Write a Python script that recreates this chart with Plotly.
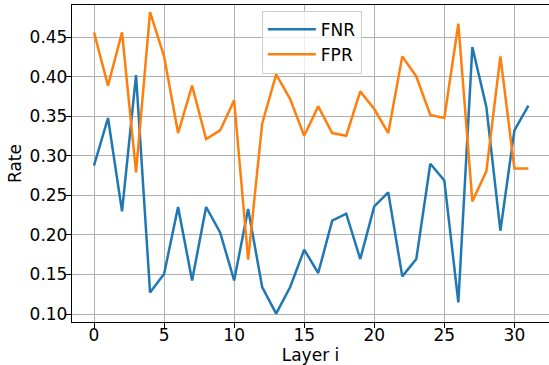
import plotly.graph_objects as go

layers = list(range(32))
fnr = [0.2877, 0.348, 0.2298, 0.4024, 0.1273, 0.1506, 0.2354, 0.1425,
       0.2354, 0.2033, 0.1425, 0.2329, 0.1342, 0.1004, 0.1342, 0.1814,
       0.1519, 0.2181, 0.2269, 0.1696, 0.2362, 0.2539, 0.1476, 0.1696,
       0.2902, 0.2690, 0.1147, 0.4378, 0.3619, 0.2054, 0.3323, 0.3636]
fpr = [0.4563, 0.3889, 0.4563, 0.2792, 0.4821, 0.4260, 0.3290, 0.3889,
       0.3214, 0.3323, 0.3703, 0.1687, 0.3408, 0.4032, 0.3720, 0.3256,
       0.3627, 0.3290, 0.3256, 0.3817, 0.3594, 0.3290, 0.4260, 0.4006,
       0.3518, 0.3480, 0.4673, 0.2425, 0.2805, 0.4260, 0.2842, 0.2842]
x_ticks = [0, 5, 10, 15, 20, 25, 30]
y_ticks = [0.10, 0.15, 0.20, 0.25, 0.30, 0.35, 0.40, 0.45]

FONT = "DejaVu Sans"

fig = go.Figure()
fig.add_trace(go.Scatter(x=layers, y=fnr, mode="lines", name="FNR",
                         line=dict(color="#1f77b4", width=2.5)))
fig.add_trace(go.Scatter(x=layers, y=fpr, mode="lines", name="FPR",
                         line=dict(color="#ff7f0e", width=2.5)))

fig.update_layout(
    width=549, height=365,
    margin=dict(l=72, r=0, t=5, b=43, autoexpand=False),
    paper_bgcolor="white", plot_bgcolor="white",
    font=dict(family=FONT, size=17, color="black"),
    legend=dict(x=0.398, y=0.982, xanchor="left", yanchor="top",
                itemwidth=48,
                bgcolor="rgba(255,255,255,0.8)", bordercolor="#cccccc",
                borderwidth=1, font=dict(family=FONT, size=17)),
    xaxis=dict(
        range=[-1.57, 32.47], tickmode="array", tickvals=x_ticks,
        ticktext=[str(v) for v in x_ticks], automargin=False,
        showgrid=True, gridcolor="#b0b0b0", gridwidth=1,
        showline=True, linecolor="black", linewidth=1.3, mirror=True,
        ticks="outside", ticklen=5, tickwidth=1.3, tickcolor="black",
        ticklabelstandoff=-8,
        zeroline=False, tickfont=dict(family=FONT, size=17),
        title=dict(text="Layer i", font=dict(family=FONT, size=17)),
    ),
    yaxis=dict(
        range=[0.0899, 0.491], tickmode="array", tickvals=y_ticks,
        ticktext=[f"{v:.2f}" for v in y_ticks], automargin=False,
        showgrid=True, gridcolor="#b0b0b0", gridwidth=1,
        showline=True, linecolor="black", linewidth=1.3, mirror=False,
        ticks="outside", ticklen=5, tickwidth=1.3, tickcolor="black",
        ticklabelstandoff=-5,
        zeroline=False, tickfont=dict(family=FONT, size=17),
        title=dict(text="Rate", standoff=3, font=dict(family=FONT, size=17)),
    ),
)

fig.write_html("out.html", config={"displayModeBar": False},
               post_script="document.body.style.margin='0';document.body.style.padding='0';")
